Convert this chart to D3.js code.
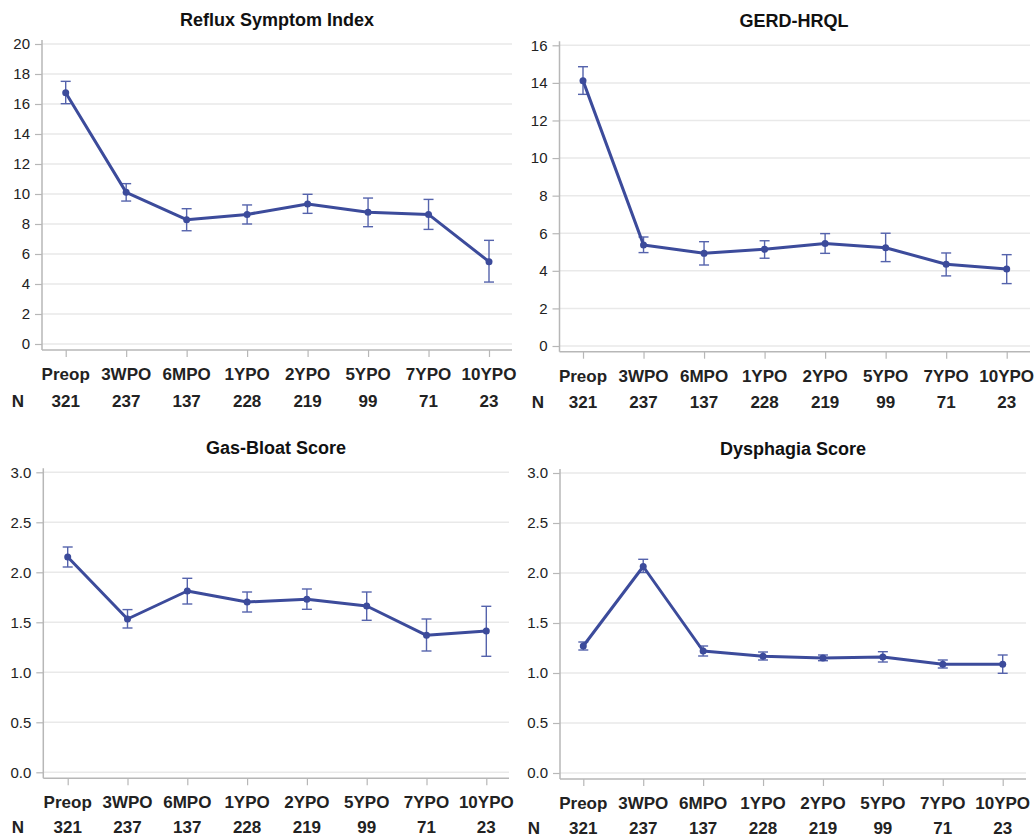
<!DOCTYPE html>
<html>
<head>
<meta charset="utf-8">
<script src="https://cdn.jsdelivr.net/npm/d3@7"></script>
<style>
  html, body { margin: 0; padding: 0; background: #fff; }
  svg { display: block; }
  text { font-family: "Liberation Sans", Arial, Helvetica, sans-serif; }
</style>
</head>
<body>
<svg id="chart" width="1035" height="838"></svg>
<script>
// ---- Data ----
const categories = ["Preop", "3WPO", "6MPO", "1YPO", "2YPO", "5YPO", "7YPO", "10YPO"];
const nCounts = ["321", "237", "137", "228", "219", "99", "71", "23"];

const titles = ["Reflux Symptom Index", "GERD-HRQL", "Gas-Bloat Score", "Dysphagia Score"];

const rsiMean  = [16.75, 10.11, 8.29, 8.64, 9.33, 8.78, 8.64, 5.49];
const rsiUpper = [17.51, 10.69, 9.02, 9.27, 9.98, 9.73, 9.64, 6.91];
const rsiLower = [16.02, 9.53, 7.55, 8.00, 8.71, 7.82, 7.64, 4.13];
const rsiTicks = [0, 2, 4, 6, 8, 10, 12, 14, 16, 18, 20];

const gerdMean  = [14.12, 5.38, 4.93, 5.15, 5.45, 5.23, 4.35, 4.10];
const gerdUpper = [14.86, 5.80, 5.55, 5.60, 5.98, 6.00, 4.95, 4.86];
const gerdLower = [13.39, 4.97, 4.31, 4.67, 4.93, 4.49, 3.73, 3.32];
const gerdTicks = [0, 2, 4, 6, 8, 10, 12, 14, 16];

const gasMean  = [2.153, 1.533, 1.813, 1.703, 1.730, 1.663, 1.370, 1.413];
const gasUpper = [2.253, 1.627, 1.940, 1.803, 1.833, 1.803, 1.533, 1.660];
const gasLower = [2.053, 1.443, 1.683, 1.603, 1.630, 1.520, 1.213, 1.160];
const gasTicks = [0, 0.5, 1.0, 1.5, 2.0, 2.5, 3.0];

const dysMean  = [1.270, 2.065, 1.220, 1.167, 1.150, 1.160, 1.087, 1.087];
const dysUpper = [1.310, 2.137, 1.270, 1.210, 1.180, 1.213, 1.130, 1.180];
const dysLower = [1.230, 2.005, 1.170, 1.130, 1.123, 1.110, 1.050, 0.997];
const dysTicks = [0, 0.5, 1.0, 1.5, 2.0, 2.5, 3.0];

// ---- Layout (positions, not data) ----
const panels = [
  { title: titles[0], mean: rsiMean, up: rsiUpper, lo: rsiLower, ticks: rsiTicks, fmt: d3.format("d"), domain: [0, 20],
    axX: 42, right: 512, yTop: 44, yZero: 344, axY: 350, c0: 65.7, c1: 489, titleX: 277, titleY: 26,
    labY: 380, nY: 407, nX: 18 },
  { title: titles[1], mean: gerdMean, up: gerdUpper, lo: gerdLower, ticks: gerdTicks, fmt: d3.format("d"), domain: [0, 16],
    axX: 559.5, right: 1030, yTop: 45.3, yZero: 346, axY: 351.7, c0: 583, c1: 1006.7, titleX: 794, titleY: 26.5,
    labY: 382, nY: 408, nX: 538 },
  { title: titles[2], mean: gasMean, up: gasUpper, lo: gasLower, ticks: gasTicks, fmt: d3.format(".1f"), domain: [0, 3],
    axX: 43.3, right: 509, yTop: 472.3, yZero: 772.3, axY: 778.3, c0: 67.7, c1: 486.3, titleX: 276, titleY: 453.5,
    labY: 808, nY: 833, nX: 18 },
  { title: titles[3], mean: dysMean, up: dysUpper, lo: dysLower, ticks: dysTicks, fmt: d3.format(".1f"), domain: [0, 3],
    axX: 560, right: 1026, yTop: 473, yZero: 773, axY: 779, c0: 583.3, c1: 1002.7, titleX: 793, titleY: 454.5,
    labY: 809, nY: 834, nX: 534 }
];

const lineColor = "#3c4b9b";
const barColor = "#5563ac";
const gridColor = "#e9e9e9";
const axisColor = "#b7b7b7";
const textColor = "#222";

const svg = d3.select("#chart");

panels.forEach(p => {
  const g = svg.append("g");
  const x = d3.scalePoint().domain(categories).range([p.c0, p.c1]);
  const y = d3.scaleLinear().domain(p.domain).range([p.yZero, p.yTop]);

  // gridlines
  g.append("g").selectAll("line").data(p.ticks).join("line")
    .attr("x1", p.axX).attr("x2", p.right)
    .attr("y1", d => y(d)).attr("y2", d => y(d))
    .attr("stroke", gridColor).attr("stroke-width", 1.5);

  // y axis
  const yAxis = d3.axisLeft(y).tickValues(p.ticks).tickFormat(p.fmt).tickSize(7).tickPadding(5);
  const ya = g.append("g").attr("transform", `translate(${p.axX},0)`).call(yAxis);
  ya.select(".domain").remove();
  ya.append("line").attr("x1", 0).attr("x2", 0).attr("y1", p.yTop - 4).attr("y2", p.axY)
    .attr("stroke", axisColor).attr("stroke-width", 1.5);
  ya.selectAll(".tick line").attr("stroke", axisColor).attr("stroke-width", 1.2);
  ya.selectAll(".tick text").attr("fill", textColor).style("font-size", "15px")
    .style("font-family", '"Liberation Sans", Arial, sans-serif');

  // x axis
  const xAxis = d3.axisBottom(x).tickSize(7).tickFormat("");
  const xa = g.append("g").attr("transform", `translate(0,${p.axY})`).call(xAxis);
  xa.select(".domain").remove();
  xa.append("line").attr("x1", p.axX).attr("x2", p.right).attr("y1", 0).attr("y2", 0)
    .attr("stroke", axisColor).attr("stroke-width", 1.5);
  xa.selectAll(".tick line").attr("stroke", axisColor).attr("stroke-width", 1.2);

  // category labels
  g.append("g").selectAll("text").data(categories).join("text")
    .attr("x", d => x(d)).attr("y", p.labY)
    .attr("text-anchor", "middle").attr("fill", textColor)
    .style("font-size", "17px").style("font-weight", "bold")
    .text(d => d);

  // N row
  g.append("text").attr("x", p.nX).attr("y", p.nY).attr("text-anchor", "middle")
    .attr("fill", textColor).style("font-size", "17px").style("font-weight", "bold").text("N");
  g.append("g").selectAll("text").data(nCounts).join("text")
    .attr("x", (d, i) => x(categories[i])).attr("y", p.nY)
    .attr("text-anchor", "middle").attr("fill", textColor)
    .style("font-size", "17px").style("font-weight", "bold")
    .text(d => d);

  // title
  g.append("text").attr("x", p.titleX).attr("y", p.titleY).attr("text-anchor", "middle")
    .attr("fill", "#111").style("font-size", "18px").style("font-weight", "bold").text(p.title);

  const pts = categories.map((c, i) => ({ c, m: p.mean[i], u: p.up[i], l: p.lo[i] }));

  // error bars
  const eb = g.append("g").attr("stroke", barColor).attr("stroke-width", 1.4).attr("fill", "none");
  eb.selectAll("line.v").data(pts).join("line").attr("class", "v")
    .attr("x1", d => x(d.c)).attr("x2", d => x(d.c)).attr("y1", d => y(d.u)).attr("y2", d => y(d.l));
  eb.selectAll("line.t").data(pts).join("line").attr("class", "t")
    .attr("x1", d => x(d.c) - 5).attr("x2", d => x(d.c) + 5).attr("y1", d => y(d.u)).attr("y2", d => y(d.u));
  eb.selectAll("line.b").data(pts).join("line").attr("class", "b")
    .attr("x1", d => x(d.c) - 5).attr("x2", d => x(d.c) + 5).attr("y1", d => y(d.l)).attr("y2", d => y(d.l));

  // line
  const line = d3.line().x(d => x(d.c)).y(d => y(d.m));
  g.append("path").datum(pts).attr("d", line)
    .attr("fill", "none").attr("stroke", lineColor).attr("stroke-width", 3).attr("stroke-linejoin", "round");

  // points
  g.append("g").selectAll("circle").data(pts).join("circle")
    .attr("cx", d => x(d.c)).attr("cy", d => y(d.m)).attr("r", 3.5).attr("fill", lineColor);
});
</script>
</body>
</html>
